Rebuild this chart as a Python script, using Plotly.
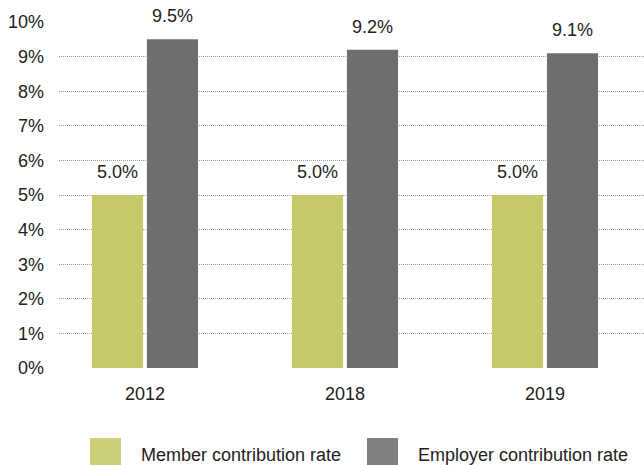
import plotly.graph_objects as go

years = ["2012", "2018", "2019"]
member_rate = [5.0, 5.0, 5.0]
employer_rate = [9.5, 9.2, 9.1]
y_ticks = list(range(0, 11))
y_tick_labels = [f"{v}%" for v in y_ticks]

member_color = "#c5c96a"
employer_color = "#6e6e6e"
member_swatch = "#ccd07a"
employer_swatch = "#808080"
text_color = "#222222"
font_family = "Liberation Sans, Arial, sans-serif"

BARGAP = 0.45
slot = (1 - BARGAP) / 2

fig = go.Figure()
fig.add_trace(go.Bar(x=years, y=member_rate, name="Member contribution rate",
                     marker=dict(color=member_color, line=dict(width=0)),
                     showlegend=False))
fig.add_trace(go.Bar(x=years, y=employer_rate, name="Employer contribution rate",
                     marker=dict(color=employer_color, line=dict(width=0)),
                     showlegend=False))

# value labels sitting above each bar
for series, sign in ((member_rate, -1), (employer_rate, 1)):
    for i, v in enumerate(series):
        fig.add_annotation(x=i + sign * slot / 2, y=v, xref="x", yref="y",
                           text=f"{v:.1f}%", showarrow=False,
                           yanchor="bottom", yshift=11,
                           font=dict(size=18, color=text_color, family=font_family))

# legend drawn as large swatches with labels
legend_items = [
    ("Member contribution rate", member_swatch, 90, 139),
    ("Employer contribution rate", employer_swatch, 367, 416),
]
W, H = 644, 465
for label, col, sx, tx in legend_items:
    fig.add_shape(type="rect", xref="paper", yref="paper",
                  x0=(sx - 59) / (W - 59), x1=(sx + 31 - 59) / (W - 59),
                  y0=-(465 - 368) / (368 - 22),
                  y1=-(438 - 368) / (368 - 22),
                  fillcolor=col, line=dict(width=0), layer="above")
    fig.add_annotation(x=(tx - 59) / (W - 59), y=-(455 - 368) / (368 - 22),
                       xref="paper", yref="paper", xanchor="left", yanchor="middle",
                       text=label, showarrow=False,
                       font=dict(size=18, color=text_color, family=font_family))

fig.update_layout(
    width=W, height=H,
    margin=dict(l=59, r=0, t=22, b=97, pad=0),
    barmode="group", bargap=BARGAP, bargroupgap=0.07,
    plot_bgcolor="white", paper_bgcolor="white",
    font=dict(family=font_family, size=18, color=text_color),
)
fig.update_xaxes(type="category", range=[-0.43, 2.495], showgrid=False,
                 showline=False, zeroline=False, ticks="", ticklabelstandoff=13,
                 tickfont=dict(size=18, color=text_color))
fig.update_yaxes(range=[0, 10], tickvals=y_ticks, ticktext=y_tick_labels,
                 showgrid=True, gridcolor="#9a9a9a", gridwidth=1, griddash="1px,1px",
                 zeroline=False, showline=False, ticks="", ticklabelstandoff=14,
                 tickfont=dict(size=18, color=text_color))

fig.write_html("out.html")
